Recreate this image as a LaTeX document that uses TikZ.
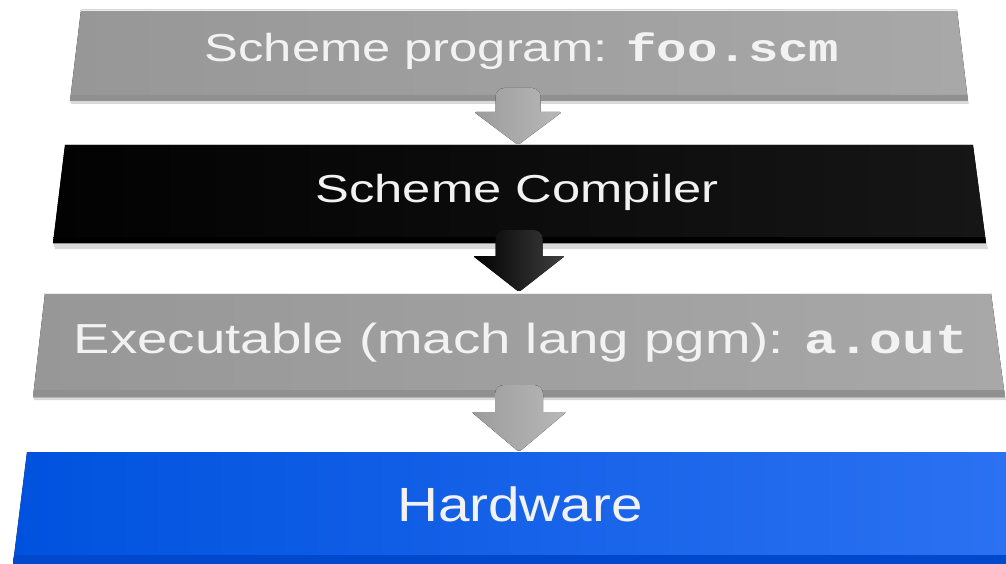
\documentclass[tikz,border=0pt]{standalone}
\usepackage{fontspec}
\setmainfont{Liberation Sans}
\setmonofont{Liberation Mono}
\usetikzlibrary{calc}
\definecolor{txt}{HTML}{F2F2F2}
\definecolor{gA}{HTML}{979797}
\definecolor{gB}{HTML}{A8A8A8}
\definecolor{gBev}{HTML}{909090}
\definecolor{kA}{HTML}{020202}
\definecolor{kB}{HTML}{161616}
\definecolor{bA}{HTML}{0052DE}
\definecolor{bB}{HTML}{2B71F2}
\definecolor{bBev}{HTML}{0048CC}
\definecolor{arA}{HTML}{9C9C9C}
\definecolor{arB}{HTML}{B8B8B8}
\tikzset{
  lbl/.style={text=txt, inner sep=0pt, anchor=base},
  graybox/.style={left color=gA, right color=gB},
  blackbox/.style={left color=kA, right color=kB},
  bluebox/.style={left color=bA, right color=bB},
  shadowbox/.style={fill=black, opacity=0.15},
  grayarrow/.style={left color=arA, right color=arB},
  blackarrow/.style={left color=black, right color=black!75},
}
% #1 tip coordinate, #2 style, #3 shaft-top offset, #4 head offset, #5 shaft half width, #6 head half width
\newcommand\dnarrow[6]{%
  \fill[#2] ($(#1)+(-#5,-#4)$) [rounded corners=9pt] -- ($(#1)+(-#5,-#3)$) -- ($(#1)+(#5,-#3)$) [sharp corners] -- ($(#1)+(#5,-#4)$)
    [rounded corners=2pt] -- ($(#1)+(#6,-#4)$) -- (#1) -- ($(#1)+(-#6,-#4)$) [sharp corners] -- cycle;}
\begin{document}
\begin{tikzpicture}[x=1pt,y=-1pt]
\useasboundingbox (0,0) rectangle (1006,564);
% shadows
\fill[shadowbox] (53,242) -- (986,242) -- (988,249) -- (55,249) -- cycle;
\fill[shadowbox] (70,100) -- (968,100) -- (969,104) -- (71,104) -- cycle;
\fill[shadowbox] (33,396) -- (1005,396) -- (1006,400) -- (34,400) -- cycle;
% box 1
\fill[graybox] (81,10) -- (957,10) -- (968,101) -- (70,101) -- cycle;
\fill[gBev] (71,95) -- (967,95) -- (968,101) -- (70,101) -- cycle;
\draw[white!85!gray, line width=0.8pt] (81,10.5) -- (957,10.5);
% box 2
\fill[blackbox] (65,145) -- (973,145) -- (986,243) -- (53,243) -- cycle;
\fill[black] (54,237) -- (985,237) -- (986,243) -- (53,243) -- cycle;
% box 3
\fill[graybox] (45,293) -- (991,293) -- (1005,397) -- (33,397) -- cycle;
\fill[gBev] (34,390) -- (1004,390) -- (1005,397) -- (33,397) -- cycle;
\draw[white!85!gray, line width=0.8pt] (45,293.5) -- (991,293.5);
% box 4
\fill[bluebox] (27,452) -- (1006,452) -- (1006,564) -- (13,564) -- cycle;
\fill[bBev] (14,555) -- (1006,555) -- (1006,564) -- (13,564) -- cycle;
% labels
\node[lbl] (l1) at (522,62) {\scalebox{1.3}[1]{\fontsize{39}{40}\selectfont Scheme program: \texttt{\bfseries foo.scm}}};
\node[lbl] (l2) at (517,203) {\scalebox{1.3}[1]{\fontsize{39}{40}\selectfont Scheme Compiler}};
\node[lbl] (l3) at (521,353) {\scalebox{1.3}[1]{\fontsize{42}{43}\selectfont Executable (mach lang pgm): \texttt{\bfseries a.out}}};
\node[lbl] (l4) at (520,521) {\scalebox{1.18}[1]{\fontsize{48}{49}\selectfont Hardware}};
% arrow tips
\coordinate (t1) at (518,145);
\coordinate (t2) at (519,292);
\coordinate (t3) at (519,452);
\dnarrow{t1}{grayarrow}{57}{33}{22.5}{44}
\dnarrow{t2}{blackarrow}{62}{36}{23.5}{46}
\dnarrow{t3}{grayarrow}{67}{40}{24}{47.5}
\end{tikzpicture}
\end{document}
